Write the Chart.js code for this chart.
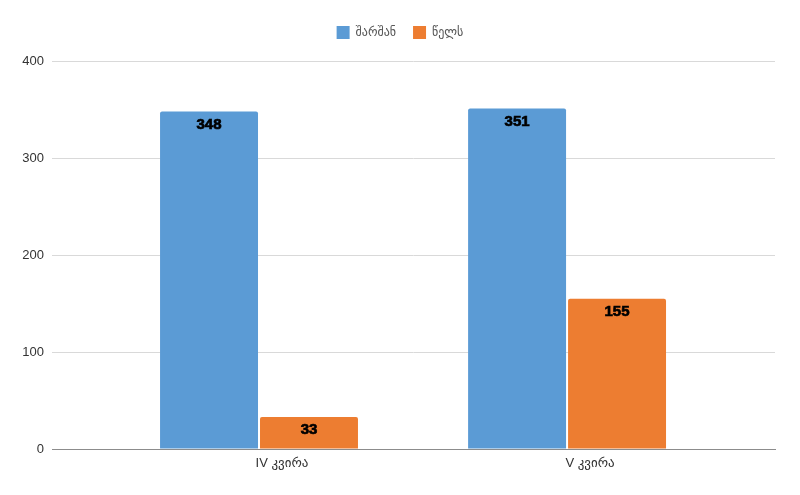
<!DOCTYPE html>
<html>
<head>
<meta charset="utf-8">
<script src="https://cdn.jsdelivr.net/npm/chart.js@4/dist/chart.umd.min.js"></script>
<style>
html,body{margin:0;padding:0;background:#fff;}
#wrap{width:800px;height:495px;}
</style>
</head>
<body>
<div id="wrap"><canvas id="c" width="800" height="495"></canvas></div>
<script>
const categories = ['IV კვირა', 'V კვირა'];
const seriesNames = ['შარშან', 'წელს'];
const lastYear = [348, 351];
const thisYear = [33, 155];
const yTicks = [0, 100, 200, 300, 400];

const FONT = "'Liberation Sans', 'DejaVu Sans', sans-serif";

const toPoints = arr => arr.map((v, i) => ({ x: i, y: v }));

const legendHeight = {
  id: 'legendHeight',
  afterInit(chart) {
    const lg = chart.legend;
    if (lg) {
      const orig = lg.fit;
      lg.fit = function () { orig.call(this); this.height = 52; };
    }
  }
};

const valueLabels = {
  id: 'valueLabels',
  afterDatasetsDraw(chart) {
    const ctx = chart.ctx;
    ctx.save();
    ctx.font = "bold 15px " + FONT;
    ctx.fillStyle = '#000';
    ctx.strokeStyle = '#000';
    ctx.lineWidth = 0.7;
    ctx.textAlign = 'center';
    ctx.textBaseline = 'middle';
    chart.data.datasets.forEach((ds, di) => {
      const meta = chart.getDatasetMeta(di);
      meta.data.forEach((bar, i) => {
        const t = String(ds.data[i].y);
        ctx.fillText(t, bar.x, bar.y + 13);
        ctx.strokeText(t, bar.x, bar.y + 13);
      });
    });
    ctx.restore();
  }
};

new Chart(document.getElementById('c'), {
  type: 'bar',
  data: {
    datasets: [
      { label: seriesNames[0], data: toPoints(lastYear), backgroundColor: '#5B9BD5', borderRadius: 2 },
      { label: seriesNames[1], data: toPoints(thisYear), backgroundColor: '#ED7D31', borderRadius: 2 }
    ]
  },
  options: {
    responsive: false,
    animation: false,
    devicePixelRatio: 1,
    categoryPercentage: 0.649,
    barPercentage: 0.98,
    layout: { padding: { top: 9, right: 0, bottom: 0, left: 0 } },
    plugins: {
      legend: {
        position: 'top',
        labels: {
          boxWidth: 13, boxHeight: 13, padding: 17,
          color: '#555', font: { family: FONT, size: 12 }
        }
      },
      tooltip: { enabled: false }
    },
    scales: {
      x: {
        type: 'linear',
        offset: false,
        min: -0.672,
        max: 1.675,
        afterBuildTicks(scale) { scale.ticks = categories.map((c, i) => ({ value: i })); },
        afterFit(scale) { scale.height = 46; },
        grid: { display: false, drawTicks: false, offset: false },
        border: { display: true, color: '#8c8c8c', width: 1 },
        ticks: {
          padding: 7,
          labelOffset: 23,
          color: '#333',
          font: { family: FONT, size: 13 },
          callback: (v) => categories[v] !== undefined ? categories[v] : ''
        }
      },
      y: {
        min: 0,
        max: 400,
        afterBuildTicks(scale) { scale.ticks = yTicks.map(v => ({ value: v })); },
        afterFit(scale) { scale.width = 52; },
        grid: { color: '#d9d9d9', drawTicks: false },
        border: { display: false },
        ticks: {
          padding: 8,
          color: '#333',
          font: { family: FONT, size: 13 }
        }
      },
      yRight: {
        position: 'right',
        min: 0,
        max: 400,
        afterFit(scale) { scale.width = 25; },
        grid: { display: false, drawTicks: false },
        border: { display: false },
        ticks: { display: false }
      }
    }
  },
  plugins: [legendHeight, valueLabels]
});
</script>
</body>
</html>
